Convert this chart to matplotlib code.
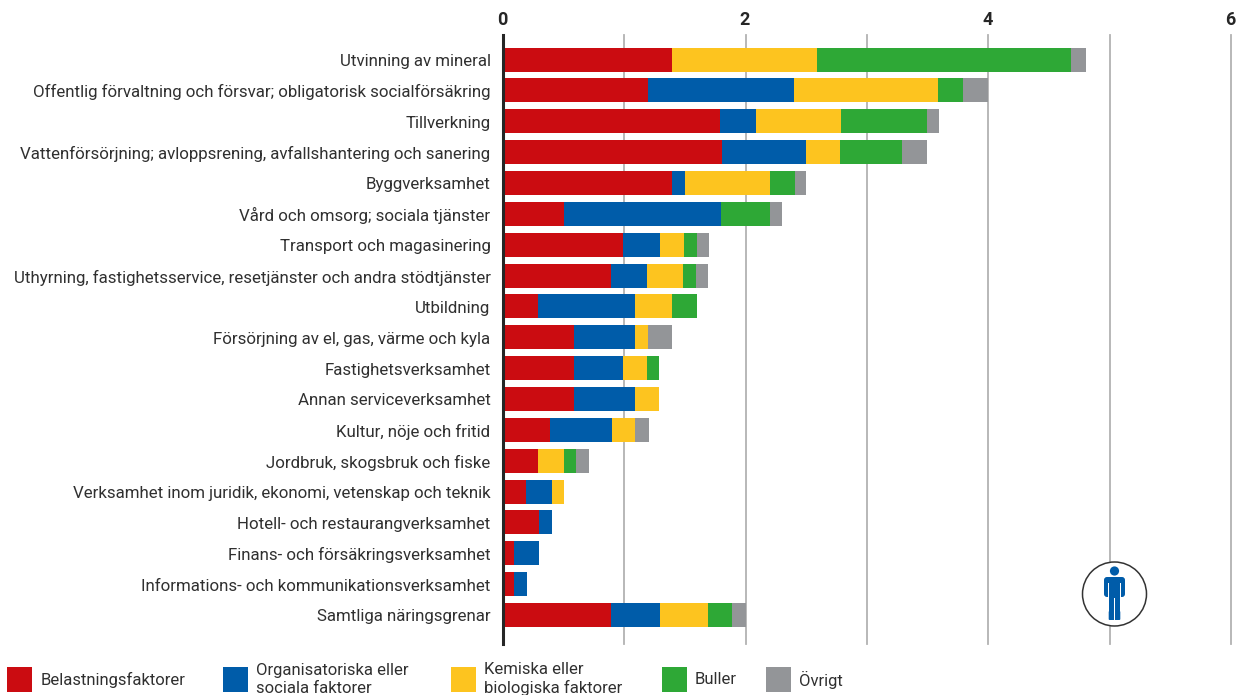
import matplotlib
matplotlib.use("Agg")
import matplotlib.pyplot as plt
from matplotlib.patches import Rectangle, Circle, FancyBboxPatch
from matplotlib.transforms import ScaledTranslation

categories = [
    "Utvinning av mineral",
    "Offentlig förvaltning och försvar; obligatorisk socialförsäkring",
    "Tillverkning",
    "Vattenförsörjning; avloppsrening, avfallshantering och sanering",
    "Byggverksamhet",
    "Vård och omsorg; sociala tjänster",
    "Transport och magasinering",
    "Uthyrning, fastighetsservice, resetjänster och andra stödtjänster",
    "Utbildning",
    "Försörjning av el, gas, värme och kyla",
    "Fastighetsverksamhet",
    "Annan serviceverksamhet",
    "Kultur, nöje och fritid",
    "Jordbruk, skogsbruk och fiske",
    "Verksamhet inom juridik, ekonomi, vetenskap och teknik",
    "Hotell- och restaurangverksamhet",
    "Finans- och försäkringsverksamhet",
    "Informations- och kommunikationsverksamhet",
    "Samtliga näringsgrenar",
]
belastning = [1.395, 1.195, 1.785, 1.805, 1.39, 0.50, 0.99, 0.89, 0.29, 0.585, 0.585, 0.585, 0.39, 0.29, 0.19, 0.30, 0.09, 0.09, 0.89]
organisatorisk = [0.00, 1.20, 0.30, 0.69, 0.11, 1.30, 0.30, 0.30, 0.80, 0.50, 0.40, 0.50, 0.51, 0.00, 0.21, 0.10, 0.21, 0.11, 0.40]
kemisk = [1.19, 1.19, 0.70, 0.28, 0.70, 0.00, 0.20, 0.29, 0.30, 0.11, 0.20, 0.20, 0.19, 0.21, 0.10, 0.00, 0.00, 0.00, 0.40]
buller = [2.10, 0.21, 0.71, 0.51, 0.21, 0.40, 0.11, 0.11, 0.21, 0.00, 0.10, 0.00, 0.00, 0.10, 0.00, 0.00, 0.00, 0.00, 0.20]
ovrigt = [0.12, 0.20, 0.10, 0.21, 0.09, 0.10, 0.10, 0.10, 0.00, 0.20, 0.00, 0.00, 0.11, 0.11, 0.00, 0.00, 0.00, 0.00, 0.11]

series = [belastning, organisatorisk, kemisk, buller, ovrigt]
colors = ["#CB0C11", "#005CA9", "#FDC41F", "#2EA836", "#939598"]
legend_labels = ["Belastningsfaktorer", "Organisatoriska eller\nsociala faktorer",
                 "Kemiska eller\nbiologiska faktorer", "Buller", "Övrigt"]
x_ticks = [0, 2, 4, 6]
x_grid = [1, 2, 3, 4, 5, 6]

FONT = "Roboto"
W, H = 1239, 695
fig = plt.figure(figsize=(W / 100, H / 100), dpi=100)
ax = fig.add_axes([503 / W, 1 - 644 / H, (1231 - 503) / W, (644 - 35) / H])

step = (615 - 59.5) / 18
ax.set_xlim(0, 6)
ax.set_ylim((644 - 59.5) / step, -(59.5 - 35) / step)

for g in x_grid:
    ax.axvline(g, color="#B2B2B2", lw=1.3, zorder=1, clip_on=False)
left = [0.0] * len(categories)
for vals, col in zip(series, colors):
    ax.barh(range(len(categories)), vals, left=left, height=24 / step, color=col, lw=0, zorder=2)
    left = [a + b for a, b in zip(left, vals)]
ax.axvline(0, color="#262626", lw=2.2, zorder=3, clip_on=False)

for s in ax.spines.values():
    s.set_visible(False)
ax.set_yticks(range(len(categories)))
ax.set_yticklabels(categories, fontsize=12.15, family=FONT, color="#303030")
ax.tick_params(axis="y", length=0, pad=9)
shift = ScaledTranslation(0, -0.5 / 100, fig.dpi_scale_trans)
for lab in ax.get_yticklabels():
    lab.set_transform(lab.get_transform() + shift)
ax.xaxis.tick_top()
ax.set_xticks(x_ticks)
ax.set_xticklabels([str(t) for t in x_ticks], fontsize=13, fontweight="bold", family=FONT, color="#262626")
ax.tick_params(axis="x", length=0, pad=4)
shift_x = ScaledTranslation(-1 / 100, 0, fig.dpi_scale_trans)
for lab in ax.get_xticklabels():
    lab.set_transform(lab.get_transform() + shift_x)

# overlay in pixel coordinates for legend and icon
ov = fig.add_axes([0, 0, 1, 1], facecolor="none")
ov.set_xlim(0, W)
ov.set_ylim(H, 0)
ov.axis("off")

for sx, tx, ty, col, lab in zip([7, 223, 451, 662, 766], [41, 256, 484, 695, 799],
                                [680, 679.3, 679.3, 680, 680], colors, legend_labels):
    ov.add_patch(Rectangle((sx, 667), 25, 25, color=col, lw=0))
    ov.text(tx, ty, lab, va="center", ha="left", fontsize=12, family=FONT, color="#303030", linespacing=1.25)

cx, cy = 1114.5, 594
ov.add_patch(Circle((cx, cy), 32, fc="white", ec="#333333", lw=1.1, zorder=5))
blue = colors[1]
ov.add_patch(Circle((cx, 571), 4.6, fc=blue, lw=0, zorder=6))
ov.add_patch(FancyBboxPatch((cx - 10.5 + 3, 577 + 3), 21 - 6, 20 - 6, boxstyle="round,pad=3", fc=blue, lw=0, zorder=6))
ov.add_patch(Rectangle((cx - 5.8, 590), 11.6, 26, fc=blue, lw=0, zorder=6))
ov.add_patch(FancyBboxPatch((cx - 4.8, 612), 3.9, 7, boxstyle="round,pad=1", fc=blue, lw=0, zorder=6))
ov.add_patch(FancyBboxPatch((cx + 0.9, 612), 3.9, 7, boxstyle="round,pad=1", fc=blue, lw=0, zorder=6))
ov.add_patch(Rectangle((cx - 0.4, 598), 0.8, 23, fc="white", lw=0, zorder=7))
ov.add_patch(Rectangle((cx - 6.6, 583), 0.9, 15, fc="white", lw=0, zorder=7))
ov.add_patch(Rectangle((cx + 5.7, 583), 0.9, 15, fc="white", lw=0, zorder=7))

fig.savefig("out.png", dpi=100)
